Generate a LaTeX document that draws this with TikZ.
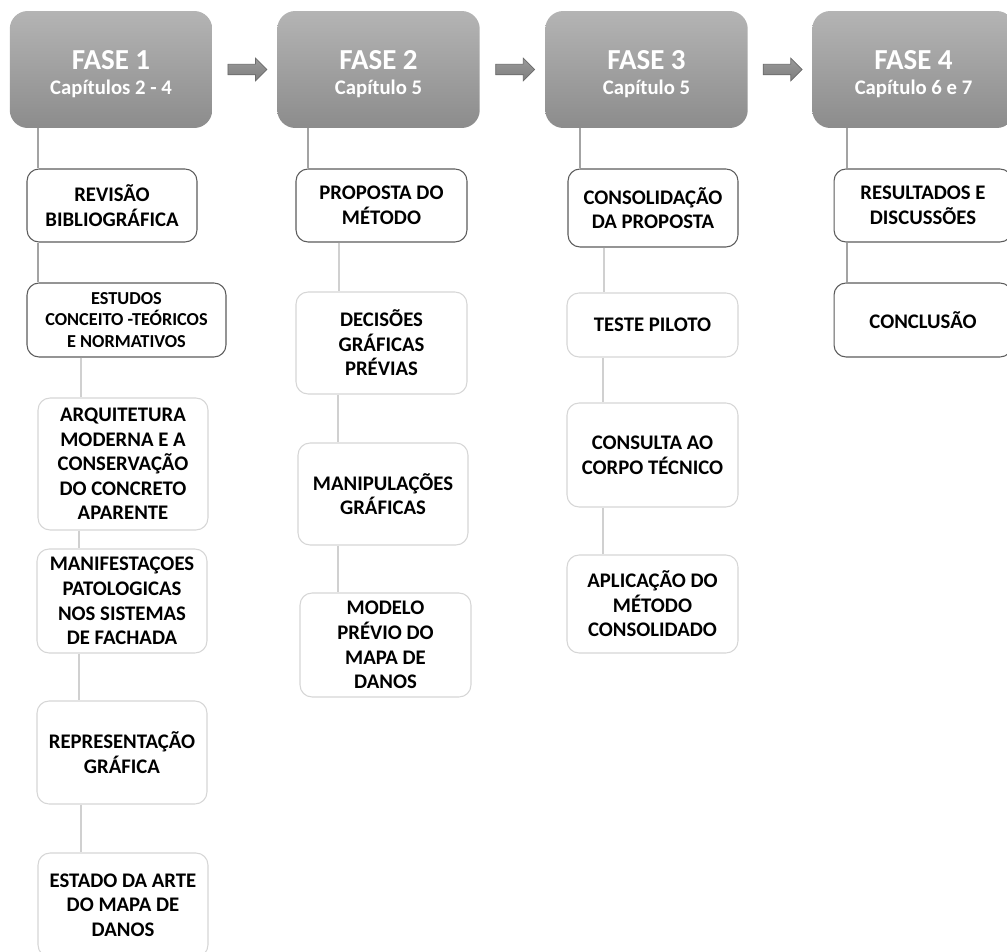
\documentclass[tikz,border=0pt]{standalone}
\usepackage{fontspec}
\setmainfont{Carlito}
\usetikzlibrary{shapes.arrows}

\definecolor{fasetopo}{HTML}{B4B4B4}
\definecolor{fasebase}{HTML}{8C8C8C}
\definecolor{setatopo}{HTML}{9A9A9A}
\definecolor{setabase}{HTML}{7E7E7E}
\definecolor{setaborda}{HTML}{6A6A6A}
\definecolor{bordaescura}{HTML}{5C5C5C}
\definecolor{bordaclara}{HTML}{D6D6D6}
\definecolor{ligaescura}{HTML}{A3A3A3}
\definecolor{ligaclara}{HTML}{D0D0D0}

\begin{document}
\begin{tikzpicture}[x=0.02cm, y=-0.02cm]
   \useasboundingbox (0,0) rectangle (1007,952);
   \clip (0,0) rectangle (1007,952);
   \tikzstyle{fase}=[rounded corners=0.36cm, top color=fasetopo, bottom color=fasebase, text=white, minimum width=4.05cm, minimum height=2.34cm, align=center, inner sep=0pt, font=\fontsize{16.5}{13.8}\selectfont\bfseries]
   \tikzstyle{caixa}=[rounded corners=0.24cm, draw=bordaescura, fill=white, line width=0.6pt, align=center, inner sep=0pt, font=\fontsize{11.8}{14}\selectfont\bfseries]
   \tikzstyle{fraca}=[draw=bordaclara]
   \tikzstyle{seta}=[single arrow, draw=setaborda, top color=setatopo, bottom color=setabase, line width=0.4pt, minimum height=0.78cm, inner sep=0.1cm, single arrow head extend=0.12cm]
   \foreach \i/\x/\cap in {1/111/{Capítulos 2 - 4}, 2/378.5/{Capítulo 5}, 3/646.5/{Capítulo 5}, 4/913.5/{Capítulo 6 e 7}} {
       \node[fase] (f\i) at (\x,69.5) {\rule{0pt}{16pt}FASE \i\\{\fontsize{11.8}{14}\selectfont \cap}};
   }
   \foreach \i/\j in {1/2,2/3,3/4}
       \path (f\i) -- node[seta] {} (f\j);
   % coluna 1
   \node[caixa, minimum width=3.4cm, minimum height=1.46cm] (a1) at (112,205.5) {REVISÃO\\BIBLIOGRÁFICA};
   \node[caixa, minimum width=3.98cm, minimum height=1.48cm, font=\fontsize{10.4}{12.2}\selectfont\bfseries] (a2) at (126.5,320) {ESTUDOS\\CONCEITO -TEÓRICOS\\E NORMATIVOS};
   \node[caixa, fraca, minimum width=3.4cm, minimum height=2.64cm] (a3) at (123,464) {ARQUITETURA\\MODERNA E A\\CONSERVAÇÃO\\DO CONCRETO\\APARENTE};
   \node[caixa, fraca, minimum width=3.4cm, minimum height=2.08cm] (a4) at (122,601) {MANIFESTAÇOES\\PATOLOGICAS\\NOS SISTEMAS\\DE FACHADA};
   \node[caixa, fraca, minimum width=3.4cm, minimum height=2.06cm] (a5) at (122,752.5) {REPRESENTAÇÃO\\GRÁFICA};
   \node[caixa, fraca, minimum width=3.4cm, minimum height=2.08cm] (a6) at (123,905) {ESTADO DA ARTE\\DO MAPA DE\\DANOS};
   % coluna 2
   \node[caixa, minimum width=3.42cm, minimum height=1.46cm] (b1) at (381.5,205.5) {PROPOSTA DO\\MÉTODO};
   \node[caixa, fraca, minimum width=3.42cm, minimum height=2.04cm] (b2) at (381.5,343) {DECISÕES\\GRÁFICAS\\PRÉVIAS};
   \node[caixa, fraca, minimum width=3.4cm, minimum height=2.04cm] (b3) at (383,494) {MANIPULAÇÕES\\GRÁFICAS};
   \node[caixa, fraca, minimum width=3.42cm, minimum height=2.08cm] (b4) at (385.5,645) {MODELO\\PRÉVIO DO\\MAPA DE\\DANOS};
   % coluna 3
   \node[caixa, minimum width=3.4cm, minimum height=1.56cm] (c1) at (653,208) {CONSOLIDAÇÃO\\DA PROPOSTA};
   \node[caixa, fraca, minimum width=3.42cm, minimum height=1.28cm] (c2) at (652.5,325) {TESTE PILOTO};
   \node[caixa, fraca, minimum width=3.42cm, minimum height=2.08cm] (c3) at (652.5,455) {CONSULTA AO\\CORPO TÉCNICO};
   \node[caixa, fraca, minimum width=3.42cm, minimum height=1.96cm] (c4) at (652.5,604) {APLICAÇÃO DO\\MÉTODO\\CONSOLIDADO};
   % coluna 4
   \node[caixa, minimum width=3.56cm, minimum height=1.46cm] (d1) at (923,205.5) {RESULTADOS E\\DISCUSSÕES};
   \node[caixa, minimum width=3.56cm, minimum height=1.48cm] (d2) at (923,320) {CONCLUSÃO};
   \foreach \de/\para/\x/\cor in {f1/a1/38/ligaescura, a1/a2/38/ligaescura, a2/a3/81/ligaclara, a3/a4/79/ligaclara, a4/a5/79/ligaclara, a5/a6/81/ligaclara,
       f2/b1/308/ligaescura, b1/b2/339/ligaclara, b2/b3/338/ligaclara, b3/b4/338/ligaclara,
       f3/c1/580/ligaescura, c1/c2/604/ligaclara, c2/c3/603/ligaclara, c3/c4/603/ligaclara,
       f4/d1/847/ligaescura, d1/d2/847/ligaescura}
       \draw[\cor, line width=0.6pt] (\de.south -| \x,0) -- (\para.north -| \x,0);
\end{tikzpicture}
\end{document}
